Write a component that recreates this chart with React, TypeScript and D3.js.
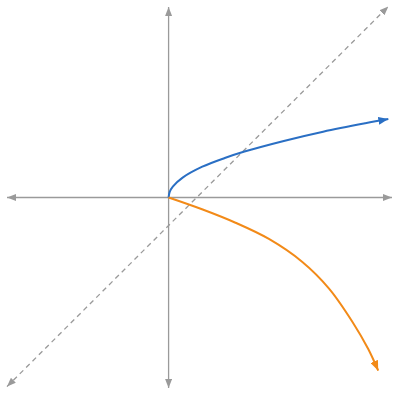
import * as d3 from "d3";

// values, in plot units (origin at the axes crossing)
const X_DOMAIN = [-5.75, 7.95];
const Y_DOMAIN = [-6.8, 6.8];

const diagonalX = [-5.75, 7.82];
const diagonalY = [-6.75, 6.82];

const blueX = [0, 0.04, 0.15, 0.5, 1.2, 2.0, 2.7, 4.1, 5.5, 7.0, 7.82];
const blueY = [0, 0.2, 0.39, 0.71, 1.1, 1.41, 1.64, 2.02, 2.35, 2.65, 2.8];

const orangeX = [0, 1.19, 2.38, 3.57, 4.76, 5.71, 6.55, 7.1, 7.46];
const orangeY = [0, -0.42, -0.9, -1.48, -2.3, -3.25, -4.45, -5.4, -6.18];

const W = 400;
const H = 400;
const AXIS = "#9a9a9a";
const BLUE = "#2a6fc4";
const ORANGE = "#f28a18";

export default function App() {
  const x = d3.scaleLinear().domain(X_DOMAIN).range([7, 392]);
  const y = d3.scaleLinear().domain(Y_DOMAIN).range([388, 7]);

  const line = d3
    .line<[number, number]>()
    .x((d) => x(d[0]))
    .y((d) => y(d[1]))
    .curve(d3.curveCatmullRom.alpha(0.5));

  const blue = blueX.map((v, i) => [v, blueY[i]] as [number, number]);
  const orange = orangeX.map((v, i) => [v, orangeY[i]] as [number, number]);

  const marker = (id: string, color: string, len: number, wid: number) => (
    <marker
      id={id}
      markerUnits="userSpaceOnUse"
      markerWidth={len}
      markerHeight={wid}
      refX={len}
      refY={wid / 2}
      orient="auto-start-reverse"
      viewBox={`0 0 ${len} ${wid}`}
    >
      <path d={`M0,0L${len},${wid / 2}L0,${wid}Z`} fill={color} />
    </marker>
  );

  return (
    <svg
      width={W}
      height={H}
      style={{ position: "fixed", left: 0, top: 0, background: "#fff" }}
    >
      <defs>
        {marker("ax", AXIS, 9, 7)}
        {marker("ab", BLUE, 10, 8)}
        {marker("ao", ORANGE, 10, 8)}
      </defs>
      <line
        x1={x(X_DOMAIN[0])}
        x2={x(X_DOMAIN[1])}
        y1={y(0)}
        y2={y(0)}
        stroke={AXIS}
        strokeWidth={1.3}
        markerStart="url(#ax)"
        markerEnd="url(#ax)"
      />
      <line
        x1={x(0)}
        x2={x(0)}
        y1={y(Y_DOMAIN[0])}
        y2={y(Y_DOMAIN[1])}
        stroke={AXIS}
        strokeWidth={1.3}
        markerStart="url(#ax)"
        markerEnd="url(#ax)"
      />
      <line
        x1={x(diagonalX[0])}
        y1={y(diagonalY[0])}
        x2={x(diagonalX[1])}
        y2={y(diagonalY[1])}
        stroke={AXIS}
        strokeWidth={1.3}
        strokeDasharray="5 4"
        markerStart="url(#ax)"
        markerEnd="url(#ax)"
      />
      <path
        d={line(blue) ?? ""}
        fill="none"
        stroke={BLUE}
        strokeWidth={2}
        markerEnd="url(#ab)"
      />
      <path
        d={line(orange) ?? ""}
        fill="none"
        stroke={ORANGE}
        strokeWidth={2}
        markerEnd="url(#ao)"
      />
    </svg>
  );
}
